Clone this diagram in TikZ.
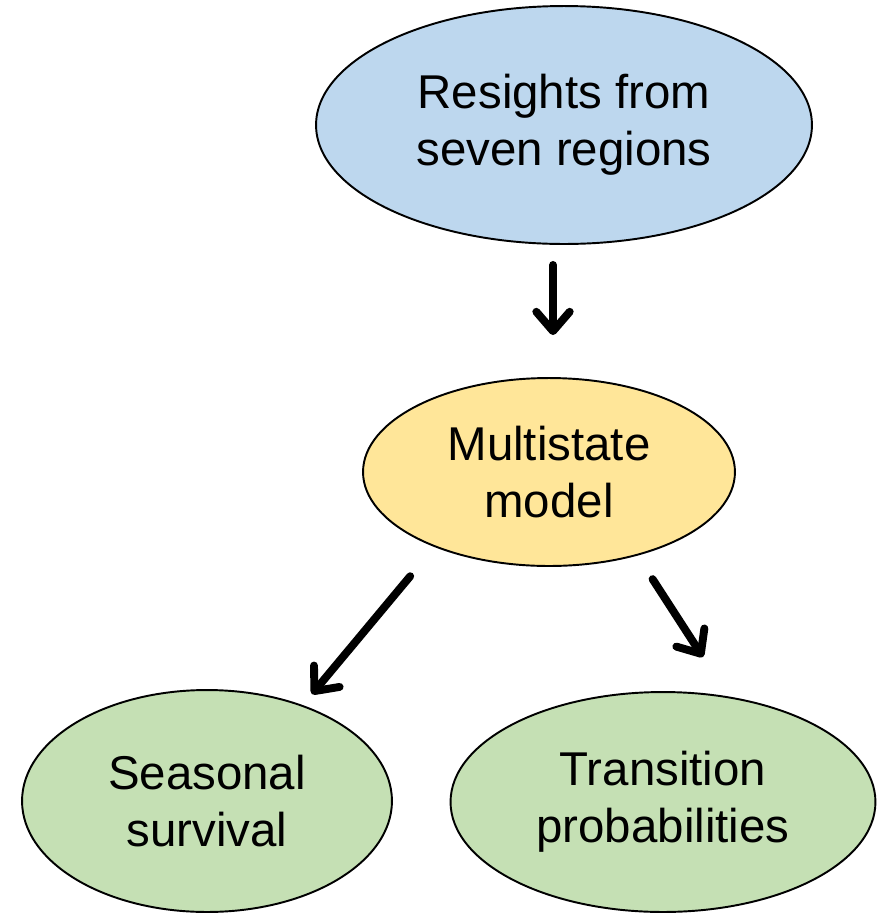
\documentclass[tikz,border=0pt]{standalone}
\usepackage{fontspec}
\setmainfont{Liberation Sans}
\usetikzlibrary{arrows.meta,positioning,calc,shapes.geometric}
\definecolor{ResightBlue}{HTML}{BDD7EE}
\definecolor{ModelGold}{HTML}{FFE699}
\definecolor{OutGreen}{HTML}{C5E0B4}

\begin{document}
\begin{tikzpicture}[
    x=0.02cm, y=-0.02cm,
    stage/.style={
      ellipse,
      draw=black,
      line width=1.1pt,
      fill=#1,
      inner sep=0pt,
      font=\fontsize{27}{32.5}\selectfont,
      align=center
    },
    arr/.style={
      -{Straight Barb[round,length=11pt,width=19pt]},
      line width=4.5pt,
      line cap=round,
      color=black
    }
  ]

  \useasboundingbox (0,0) rectangle (877,914);

  \node[stage=ResightBlue, minimum width=9.92cm, minimum height=4.76cm]
    (resights) at (564,125) {Resights from\\seven regions};
  \node[stage=ModelGold, minimum width=7.44cm, minimum height=3.76cm]
    (model) at (549,472) {Multistate\\model};
  \node[stage=OutGreen, minimum width=7.4cm, minimum height=4.44cm]
    (survival) at (207,801) {Seasonal\\survival};
  \node[stage=OutGreen, minimum width=8.5cm, minimum height=4.4cm]
    (transition) at (663,802) {Transition\\probabilities};

  % Arrows between stages
  \draw[arr] ([xshift=-0.22cm,yshift=-0.4cm]resights.south)
    -- ([xshift=0.08cm,yshift=0.84cm]model.north);
  \draw[arr] ([xshift=-0.84cm,yshift=-0.46cm]model.-140)
    -- ([xshift=0.18cm,yshift=0.22cm]survival.45);
  \draw[arr] ([xshift=1.02cm,yshift=-0.32cm]model.-60)
    -- ([xshift=0.8cm,yshift=0.68cm]transition.north);

\end{tikzpicture}
\end{document}
